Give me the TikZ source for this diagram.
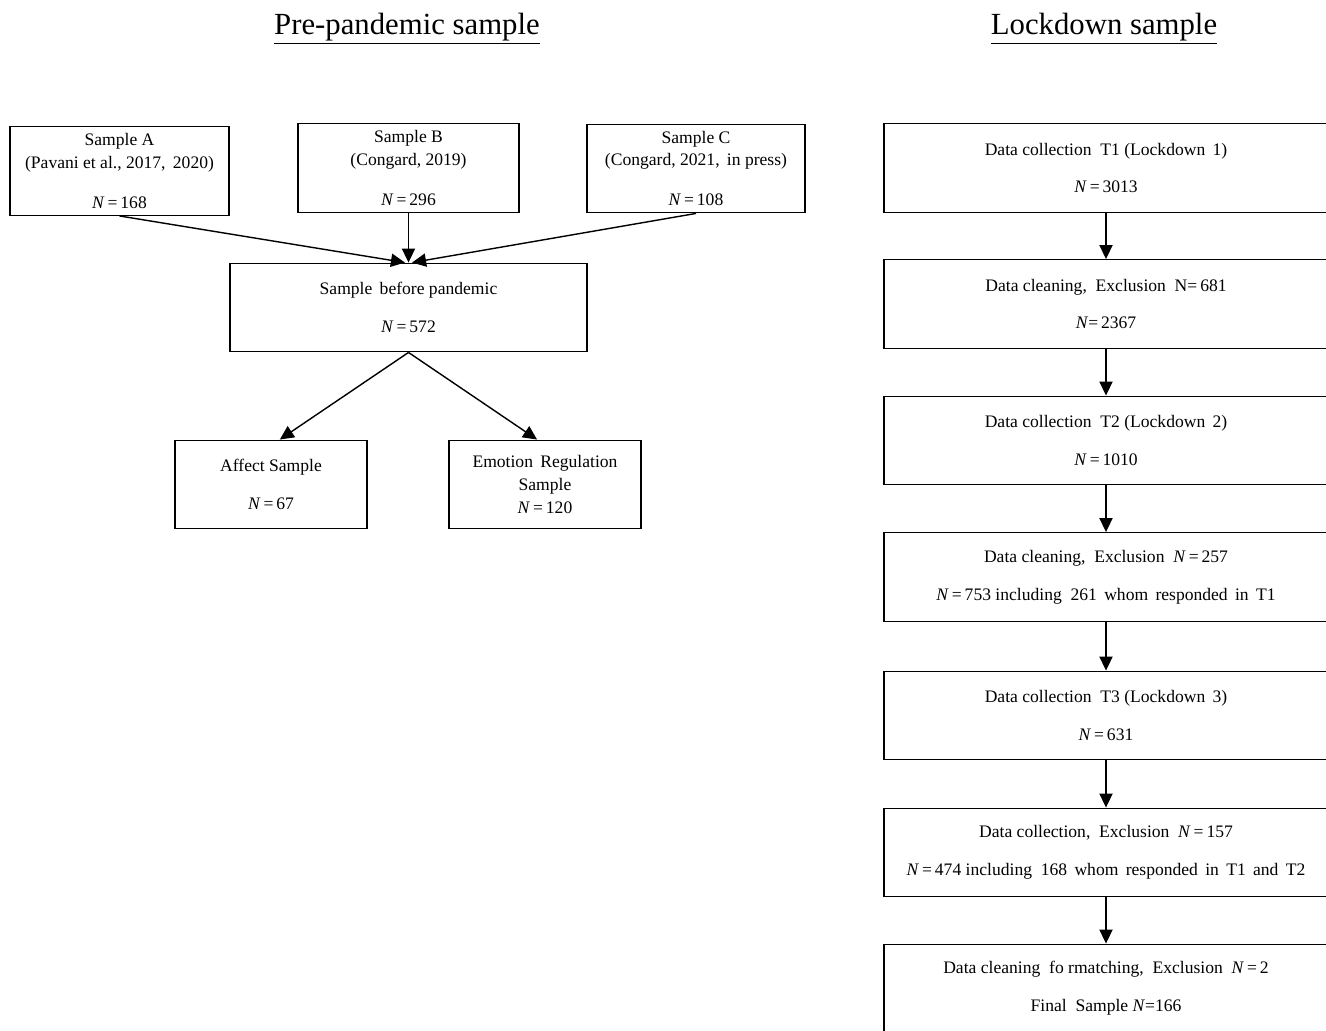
\documentclass[tikz,border=0pt]{standalone}
\usepackage{fontspec}
\setmainfont{Liberation Serif}
\usepackage{tikz}
\usetikzlibrary{arrows.meta}

\newcommand{\nval}[1]{\textit{N}\,=\,#1}

\begin{document}
\begin{tikzpicture}[x=0.02cm, y=-0.02cm,
    box/.style={draw, line width=0.8pt, inner sep=0pt, align=center,
        font=\fontsize{10}{13}\selectfont, minimum height=1.77cm},
    sidebox/.style={box, minimum width=8.88cm},
    flow/.style={-{Triangle[length=8pt, width=7.5pt]}, line width=0.8pt},
    title/.style={anchor=base, font=\fontsize{17.5}{20}\selectfont}]
    \useasboundingbox (0,0) rectangle (1326,1031);

    \node[title] (pretitle) at (407,34) {\underline{Pre-pandemic sample}};
    \node[title] (locktitle) at (1104,34) {\underline{Lockdown sample}};

    % pre-pandemic side
    \node[box, minimum width=4.38cm] (sA) at (119.5,171) {Sample A\\(Pavani et al., 2017,\, 2020)\\[9.7pt]\nval{168}};
    \node[box, minimum width=4.42cm] (sB) at (408.5,168) {Sample B\\(Congard, 2019)\\[9.7pt]\nval{296}};
    \node[box, minimum width=4.36cm] (sC) at (696,168.5) {Sample C\\(Congard, 2021,\, in press)\\[9.7pt]\nval{108}};
    \node[box, minimum width=7.14cm] (before) at (408.5,307.5) {Sample\, before pandemic\\[8.5pt]\nval{572}};
    \node[box, minimum width=3.84cm] (affect) at (271,484.5) {Affect Sample\\[8.5pt]\nval{67}};
    \node[box, minimum width=3.84cm] (emotion) at (545,484.5) {Emotion\, Regulation\\Sample\\\nval{120}};

    % lockdown side
    \node[sidebox] (L1) at (1106,168) {Data collection\ \ T1 (Lockdown\, 1)\\[8.5pt]\nval{3013}};
    \node[sidebox] (L2) at (1106,304) {Data cleaning,\ \ Exclusion\ \ N=\,681\\[8.5pt]\textit{N}=\,2367};
    \node[sidebox] (L3) at (1106,440.5) {Data collection\ \ T2 (Lockdown\, 2)\\[8.5pt]\nval{1010}};
    \node[sidebox] (L4) at (1106,577) {Data cleaning,\ \ Exclusion\ \ \nval{257}\\[8.5pt]\nval{753} including\ \ 261\, whom\, responded\, in\, T1};
    \node[sidebox] (L5) at (1106,715.5) {Data collection\ \ T3 (Lockdown\, 3)\\[8.5pt]\nval{631}};
    \node[sidebox] (L6) at (1106,852.5) {Data collection,\ \ Exclusion\ \ \nval{157}\\[8.5pt]\nval{474} including\ \ 168\, whom\, responded\, in\, T1\, and\, T2};
    \node[sidebox] (L7) at (1106,988.5) {Data cleaning\ \ fo rmatching,\ \ Exclusion\ \ \nval{2}\\[8.5pt]Final\ \ Sample\ \textit{N}=166};

    \draw[flow] (sA.south) -- ([xshift=-2pt]before.north);
    \draw[flow] (sB.south) -- (before.north);
    \draw[flow] (sC.south) -- ([xshift=2pt]before.north);
    \draw[flow] (before.south) -- ([xshift=5pt]affect.north);
    \draw[flow] (before.south) -- ([xshift=-4.5pt]emotion.north);

    \draw[flow] (L1) -- (L2);
    \draw[flow] (L2) -- (L3);
    \draw[flow] (L3) -- (L4);
    \draw[flow] (L4) -- (L5);
    \draw[flow] (L5) -- (L6);
    \draw[flow] (L6) -- (L7);
\end{tikzpicture}
\end{document}
